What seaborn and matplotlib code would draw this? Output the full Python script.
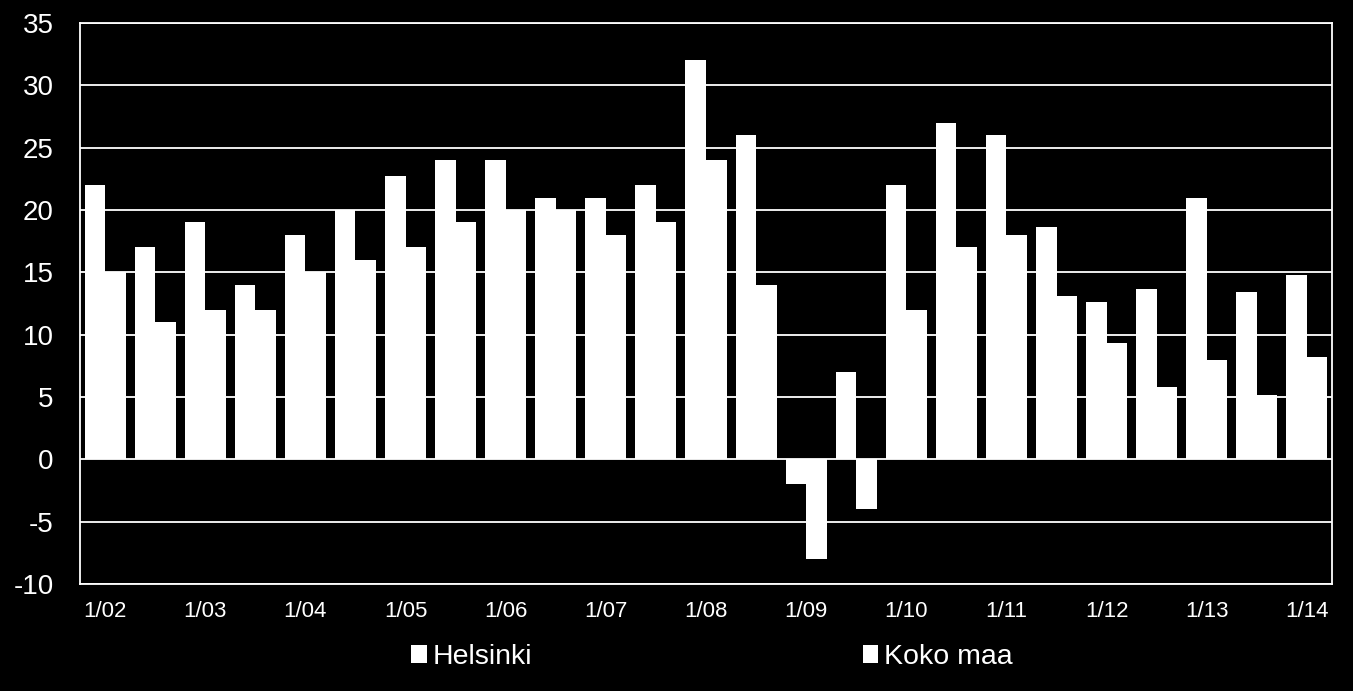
import matplotlib
matplotlib.use("Agg")
import matplotlib.pyplot as plt
import seaborn as sns
import pandas as pd

periods = ["1/02", "7/02", "1/03", "7/03", "1/04", "7/04", "1/05", "7/05",
           "1/06", "7/06", "1/07", "7/07", "1/08", "7/08", "1/09", "7/09",
           "1/10", "7/10", "1/11", "7/11", "1/12", "7/12", "1/13", "7/13", "1/14"]
helsinki = [22, 17, 19, 14, 18, 20, 22.7, 24, 24, 21, 21, 22, 32, 26, -2, 7,
            22, 27, 26, 18.6, 12.6, 13.7, 21, 13.4, 14.8]
koko_maa = [15, 11, 12, 12, 15, 16, 17, 19, 20, 20, 18, 19, 24, 14, -8, -4,
            12, 17, 18, 13.1, 9.35, 5.8, 8, 5.2, 8.2]
series_names = ["Helsinki", "Koko maa"]
yticks = list(range(-10, 36, 5))
xtick_labels = periods[::2]

df = pd.DataFrame({
    "period": periods * 2,
    "value": helsinki + koko_maa,
    "series": [series_names[0]] * len(periods) + [series_names[1]] * len(periods),
})

sns.set_theme(style="dark")
plt.rcParams["font.family"] = ["Liberation Sans", "DejaVu Sans"]

fig = plt.figure(figsize=(13.53, 6.91), dpi=100, facecolor="black")
ax = fig.add_axes([80 / 1353, 1 - 584 / 691, 1252 / 1353, (584 - 23) / 691])
ax.set_facecolor("black")

sns.barplot(data=df, x="period", y="value", hue="series", order=periods,
            hue_order=series_names, palette=["white", "white"], width=0.82,
            gap=0, saturation=1, linewidth=0, ax=ax, legend=True)

ax.set_xlim(-0.5, len(periods) - 0.5)
ax.set_ylim(-10, 35)
ax.set_yticks(yticks)
ax.set_yticklabels([str(v) for v in yticks])
ax.set_xticks(range(0, len(periods), 2))
ax.set_xticklabels(xtick_labels)
ax.set_xlabel("")
ax.set_ylabel("")

ax.grid(axis="y", color="white", linewidth=1.3)
ax.grid(axis="x", visible=False)
ax.set_axisbelow(True)
for side in ["left", "right", "bottom", "top"]:
    ax.spines[side].set_visible(True)
    ax.spines[side].set_color("white")
    ax.spines[side].set_linewidth(1.3)

ax.tick_params(axis="y", colors="white", labelsize=20, length=0, pad=19)
ax.tick_params(axis="x", colors="white", labelsize=16, length=0, pad=12)

leg = ax.legend(loc="center", bbox_to_anchor=(712 / 1353, 1 - 657 / 691), bbox_transform=fig.transFigure,
                ncol=2, frameon=False, fontsize=20.5, handlelength=0.55, handleheight=0.55,
                handletextpad=0.2, columnspacing=11.6, borderaxespad=0)
for t in leg.get_texts():
    t.set_color("white")

fig.savefig("out.png", dpi=100, facecolor="black")
